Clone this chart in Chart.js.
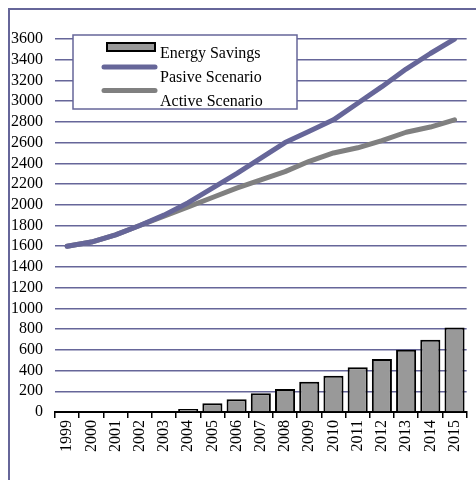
<!DOCTYPE html>
<html>
<head>
<meta charset="utf-8">
<script src="https://cdn.jsdelivr.net/npm/chart.js@4/dist/chart.umd.min.js"></script>
<style>
  html, body { margin: 0; padding: 0; background: #ffffff; }
  #wrap { position: relative; width: 476px; height: 480px; }
</style>
</head>
<body>
<div id="wrap"><canvas id="c" width="476" height="480"></canvas></div>
<script>
const years = ['1999','2000','2001','2002','2003','2004','2005','2006','2007','2008','2009','2010','2011','2012','2013','2014','2015'];
const energySavings = [0, 0, 0, 0, 0, 29, 84, 123, 181, 222, 293, 351, 432, 512, 602, 698, 815];
const pasiveScenario = [1600, 1640, 1710, 1800, 1900, 2020, 2160, 2300, 2450, 2600, 2710, 2820, 2980, 3140, 3310, 3460, 3600];
const activeScenario = [1600, 1640, 1710, 1800, 1890, 1980, 2070, 2160, 2240, 2320, 2420, 2500, 2550, 2620, 2700, 2750, 2820];
const seriesNames = ['Energy Savings', 'Pasive Scenario', 'Active Scenario'];
const yMin = 0, yMax = 3600, yStep = 200;

const FRAME = '#666699';
const FONT = '"Liberation Serif", "Times New Roman", serif';

const framePlugin = {
  id: 'frame',
  beforeDraw(chart) {
    const ctx = chart.ctx;
    ctx.save();
    ctx.fillStyle = '#ffffff';
    ctx.fillRect(0, 0, chart.width, chart.height);
    ctx.strokeStyle = FRAME;
    ctx.lineWidth = 2;
    ctx.beginPath();
    ctx.moveTo(9, chart.height);
    ctx.lineTo(9, 9);
    ctx.lineTo(chart.width, 9);
    ctx.stroke();
    ctx.restore();
  }
};

const legendPlugin = {
  id: 'customLegend',
  afterDraw(chart) {
    const ctx = chart.ctx;
    const ds = chart.data.datasets;
    ctx.save();
    ctx.fillStyle = '#ffffff';
    ctx.fillRect(73, 35, 224, 74);
    ctx.strokeStyle = FRAME;
    ctx.lineWidth = 1.5;
    ctx.strokeRect(73, 35, 224, 74);
    ctx.fillStyle = ds[0].backgroundColor;
    ctx.fillRect(107, 43, 48, 8);
    ctx.strokeStyle = ds[0].borderColor;
    ctx.lineWidth = 2;
    ctx.strokeRect(107, 43, 48, 8);
    ctx.lineCap = 'round';
    ctx.lineWidth = 5;
    ctx.strokeStyle = ds[1].borderColor;
    ctx.beginPath(); ctx.moveTo(104, 67); ctx.lineTo(155, 67); ctx.stroke();
    ctx.strokeStyle = ds[2].borderColor;
    ctx.beginPath(); ctx.moveTo(104, 90.5); ctx.lineTo(155, 90.5); ctx.stroke();
    ctx.fillStyle = '#000000';
    ctx.font = '16px ' + FONT;
    ctx.textBaseline = 'alphabetic';
    ctx.textAlign = 'left';
    ctx.fillText(ds[0].label, 160, 58);
    ctx.fillText(ds[1].label, 160, 82);
    ctx.fillText(ds[2].label, 160, 105.5);
    ctx.restore();
  }
};

new Chart(document.getElementById('c'), {
  data: {
    labels: years,
    datasets: [
      {
        type: 'bar',
        label: seriesNames[0],
        data: energySavings,
        backgroundColor: '#999999',
        borderColor: '#000000',
        borderWidth: 2,
        barPercentage: 0.83,
        categoryPercentage: 1.0,
        order: 3
      },
      {
        type: 'line',
        label: seriesNames[1],
        data: pasiveScenario,
        borderColor: '#666699',
        backgroundColor: '#666699',
        borderWidth: 5,
        pointRadius: 0,
        tension: 0,
        borderCapStyle: 'round',
        borderJoinStyle: 'round',
        order: 1
      },
      {
        type: 'line',
        label: seriesNames[2],
        data: activeScenario,
        borderColor: '#808080',
        backgroundColor: '#808080',
        borderWidth: 5,
        pointRadius: 0,
        tension: 0,
        borderCapStyle: 'round',
        borderJoinStyle: 'round',
        order: 2
      }
    ]
  },
  options: {
    responsive: false,
    animation: false,
    devicePixelRatio: 1,
    layout: { padding: { top: 39, right: 9, left: 0, bottom: 0 } },
    plugins: {
      legend: { display: false },
      tooltip: { enabled: false },
      title: { display: false }
    },
    scales: {
      x: {
        type: 'category',
        offset: true,
        afterFit(s) { s.height = 68; },
        grid: {
          offset: true,
          drawOnChartArea: false,
          drawTicks: true,
          tickLength: 6,
          color: '#000000',
          lineWidth: 1.5
        },
        border: { display: true, color: '#000000', width: 2 },
        ticks: {
          minRotation: 90,
          maxRotation: 90,
          autoSkip: false,
          padding: 2,
          color: '#000000',
          font: { family: FONT, size: 16 }
        }
      },
      y: {
        min: yMin,
        max: yMax,
        afterFit(s) { s.width = 55; },
        grid: {
          drawTicks: false,
          color: (c) => (c.tick && c.tick.value === 0) ? 'rgba(0,0,0,0)' : FRAME,
          lineWidth: 1.5
        },
        border: { display: false },
        ticks: {
          stepSize: yStep,
          autoSkip: false,
          padding: 12,
          color: '#000000',
          font: { family: FONT, size: 16 },
          callback: (v) => String(v)
        }
      }
    }
  },
  plugins: [framePlugin, legendPlugin]
});
</script>
</body>
</html>
